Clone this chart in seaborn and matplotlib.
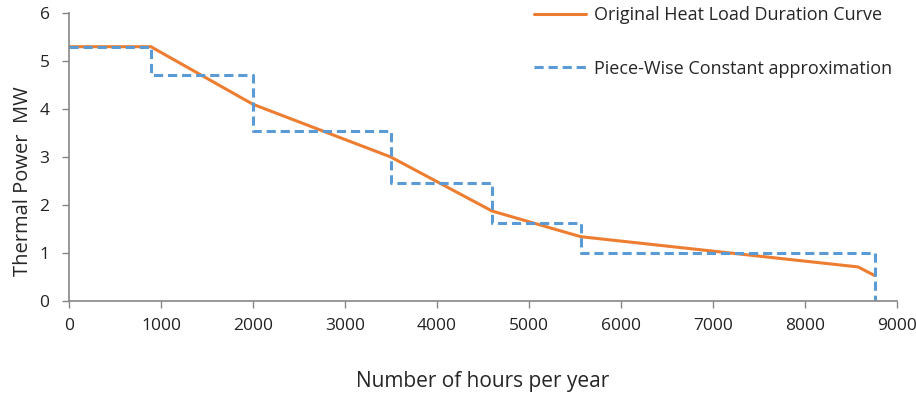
import seaborn as sns
import matplotlib.pyplot as plt
import pandas as pd

# original heat load duration curve
hours = [0, 890, 2000, 3500, 4600, 5565, 7000, 8580, 8760]
power = [5.3, 5.3, 4.1, 3.0, 1.875, 1.34, 1.04, 0.71, 0.53]

# piece-wise constant approximation (step edges)
step_hours = [0, 890, 2000, 3500, 4600, 5565, 8760]
step_power = [5.3, 4.7, 3.55, 2.45, 1.62, 1.0, 0.0]

sns.set_style("white")
plt.rcParams['font.family'] = ['Open Sans', 'DejaVu Sans']

fig = plt.figure(figsize=(9.16, 3.97), dpi=100)
ax = fig.add_axes([0.0753, 0.2418, 0.9037, 0.7252])

curve = pd.DataFrame({"hours": hours, "power": power})
steps = pd.DataFrame({"hours": step_hours, "power": step_power})

sns.lineplot(data=curve, x="hours", y="power", ax=ax, color="#ED7D31",
             linewidth=2.2, estimator=None, sort=False,
             label="Original Heat Load Duration Curve")
sns.lineplot(data=steps, x="hours", y="power", ax=ax, color="#5B9BD5",
             linewidth=2.2, estimator=None, sort=False, drawstyle="steps-post",
             linestyle=(0, (3, 1.6)), label="Piece-Wise Constant approximation")

ax.set_xlim(0, 9000)
ax.set_ylim(0, 6)
ax.set_xticks(range(0, 9001, 1000))
ax.set_yticks(range(0, 7))
ax.set_xlabel("Number of hours per year", fontsize=15, labelpad=27)
ax.set_ylabel("Thermal Power  MW", fontsize=14.5)
ax.yaxis.set_label_coords(-0.043, 0.417)
ax.tick_params(axis="both", labelsize=12.5, colors="#222222", length=5,
               width=1, direction="out", bottom=True, left=True, color="#868686")
ax.tick_params(axis="x", pad=7)
ax.tick_params(axis="y", pad=9)

for side in ["top", "right"]:
    ax.spines[side].set_visible(False)
for side in ["left", "bottom"]:
    ax.spines[side].set_color("#868686")
    ax.spines[side].set_linewidth(1.2)

ax.legend(loc="upper left", bbox_to_anchor=(0.565, 1.025), bbox_transform=fig.transFigure,
          frameon=False, fontsize=13, handlelength=2.9, labelspacing=1.95,
          handletextpad=0.45)

fig.savefig("out.png", dpi=100)
